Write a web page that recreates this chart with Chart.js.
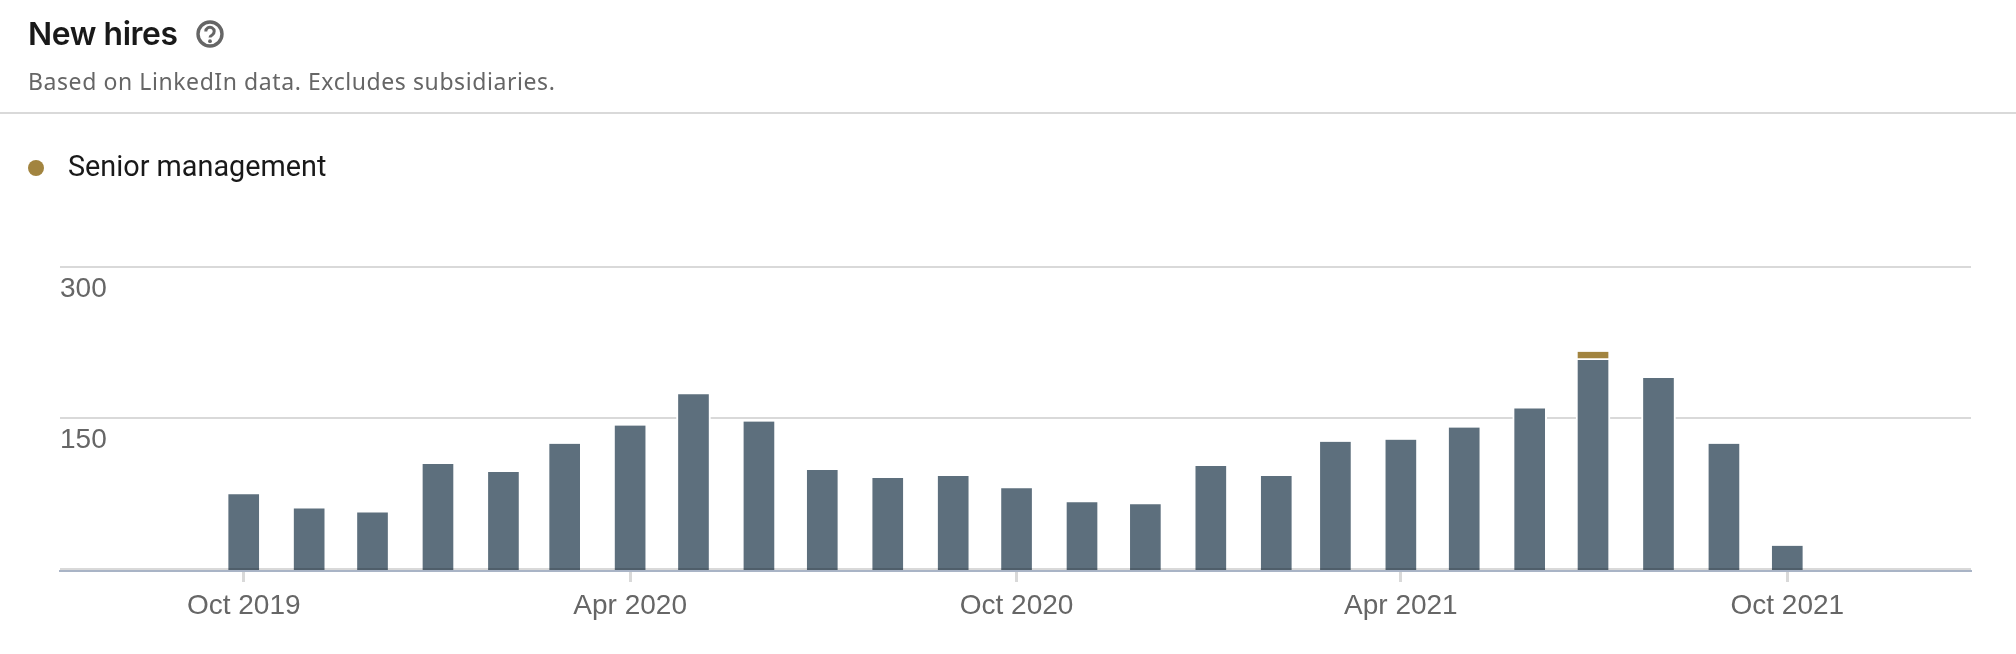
<!DOCTYPE html>
<html>
<head>
<meta charset="utf-8">
<title>New hires</title>
<script src="https://cdn.jsdelivr.net/npm/chart.js@4"></script>
<style>
  html, body { margin: 0; padding: 0; background: #fff; }
  body { width: 2016px; height: 654px; position: relative; overflow: hidden; font-family: "Liberation Sans", sans-serif; }
  h1 { position: absolute; left: 28px; top: 16px; margin: 0; font: 600 31.8px/36px Inter, sans-serif; letter-spacing: -0.4px; color: #191919; }
  .help { position: absolute; left: 196px; top: 20px; width: 28px; height: 28px; }
  .sub { position: absolute; left: 28px; top: 67px; font: 400 23px/28px "Noto Sans", sans-serif; color: #666; letter-spacing: 0.58px; }
  .rule { position: absolute; left: 0; right: 0; top: 112px; height: 2px; background: #d9d9d9; }
  .dot { position: absolute; left: 28px; top: 160px; width: 16px; height: 16px; border-radius: 50%; background: #a2843f; }
  .legend { position: absolute; left: 68px; top: 149px; font: 400 28.8px/34px Roboto, sans-serif; color: #191919; }
  .wrap { position: absolute; left: 0; top: 0; width: 2016px; height: 654px; }
</style>
</head>
<body>
<div class="wrap"><canvas id="hires" width="2016" height="654"></canvas></div>
<h1>New hires</h1>
<svg class="help" viewBox="0 0 28 28"><circle cx="14" cy="14" r="12" fill="none" stroke="#666" stroke-width="3.4"/><path d="M9.8 11.5a4.2 4.2 0 1 1 6.4 3.5c-1.4.8-2.2 1.3-2.2 2.6" fill="none" stroke="#666" stroke-width="3"/><circle cx="14" cy="21.2" r="1.9" fill="#666"/></svg>
<div class="sub">Based on LinkedIn data. Excludes subsidiaries.</div>
<div class="rule"></div>
<div class="dot"></div>
<div class="legend" id="legend"></div>
<script>
const months = ['2019-10-01','2019-11-01','2019-12-01','2020-01-01','2020-02-01','2020-03-01','2020-04-01','2020-05-01','2020-06-01','2020-07-01','2020-08-01','2020-09-01','2020-10-01','2020-11-01','2020-12-01','2021-01-01','2021-02-01','2021-03-01','2021-04-01','2021-05-01','2021-06-01','2021-07-01','2021-08-01','2021-09-01','2021-10-01'];
const otherHires = [75,61,57,105,97,125,143,174,147,99,91,93,81,67,65,103,93,127,129,141,160,208,190,125,24];
const seniorHires = [0,0,0,0,0,0,0,0,0,0,0,0,0,0,0,0,0,0,0,0,0,8,0,0,0];
const seniorLabel = 'Senior management';
const xTickMonths = ['2019-10-01','2020-04-01','2020-10-01','2021-04-01','2021-10-01'];
const xTickLabels = ['Oct 2019','Apr 2020','Oct 2020','Apr 2021','Oct 2021'];
const yTicks = [150,300];

const toDay = s => Date.parse(s) / 86400000;
const pairs = vals => months.map((m, i) => ({ x: toDay(m), y: vals[i] }));

document.getElementById('legend').textContent = seniorLabel;

new Chart(document.getElementById('hires'), {
  type: 'bar',
  data: {
    datasets: [
      {
        label: 'Other',
        data: pairs(otherHires),
        backgroundColor: '#5d6f7d',
        borderColor: '#fff',
        borderWidth: { left: 2, right: 2, top: 0, bottom: 0 },
        borderSkipped: false,
        barThickness: 34
      },
      {
        label: seniorLabel,
        data: pairs(seniorHires),
        backgroundColor: '#a2843f',
        borderColor: '#fff',
        borderWidth: { left: 2, right: 2, top: 0, bottom: 2 },
        borderSkipped: false,
        barThickness: 34
      }
    ]
  },
  options: {
    responsive: false,
    animation: false,
    layout: { padding: { left: 60, right: 45, top: 267, bottom: 0 } },
    plugins: { legend: { display: false }, tooltip: { enabled: false } },
    scales: {
      x: {
        type: 'linear',
        stacked: true,
        offset: false,
        min: toDay('2019-07-06'),
        max: toDay('2021-12-27'),
        afterBuildTicks: axis => { axis.ticks = xTickMonths.map(m => ({ value: toDay(m) })); },
        afterFit: axis => { axis.height = 83; },
        grid: { display: true, offset: false, drawOnChartArea: false, drawTicks: true, tickLength: 11, tickWidth: 3, tickColor: '#d9d9d9' },
        border: { color: '#a9b4c6', width: 2 },
        ticks: {
          autoSkip: false, maxRotation: 0, padding: 7,
          color: '#666', font: { family: '"Liberation Sans"', size: 28 },
          callback: v => xTickLabels[xTickMonths.findIndex(m => toDay(m) === v)]
        }
      },
      y: {
        stacked: true,
        min: -1,
        max: 300,
        afterBuildTicks: axis => { axis.ticks = yTicks.map(v => ({ value: v })); },
        grid: { color: '#d9d9d9', lineWidth: 2, drawTicks: false },
        border: { display: false },
        ticks: {
          mirror: true, padding: 0, labelOffset: 22,
          color: '#666', font: { family: '"Liberation Sans"', size: 28 }
        }
      },
      // baseline sits over the bars, that is why they look darker at the foot
      base: {
        position: 'right',
        min: -1,
        max: 300,
        afterBuildTicks: axis => { axis.ticks = [{ value: 1 }]; },
        afterFit: axis => { axis.width = 0; },
        grid: { color: 'rgba(0,0,0,0.15)', lineWidth: 2, drawTicks: false, z: 1 },
        border: { display: false },
        ticks: { display: false }
      }
    }
  }
});
</script>
</body>
</html>
